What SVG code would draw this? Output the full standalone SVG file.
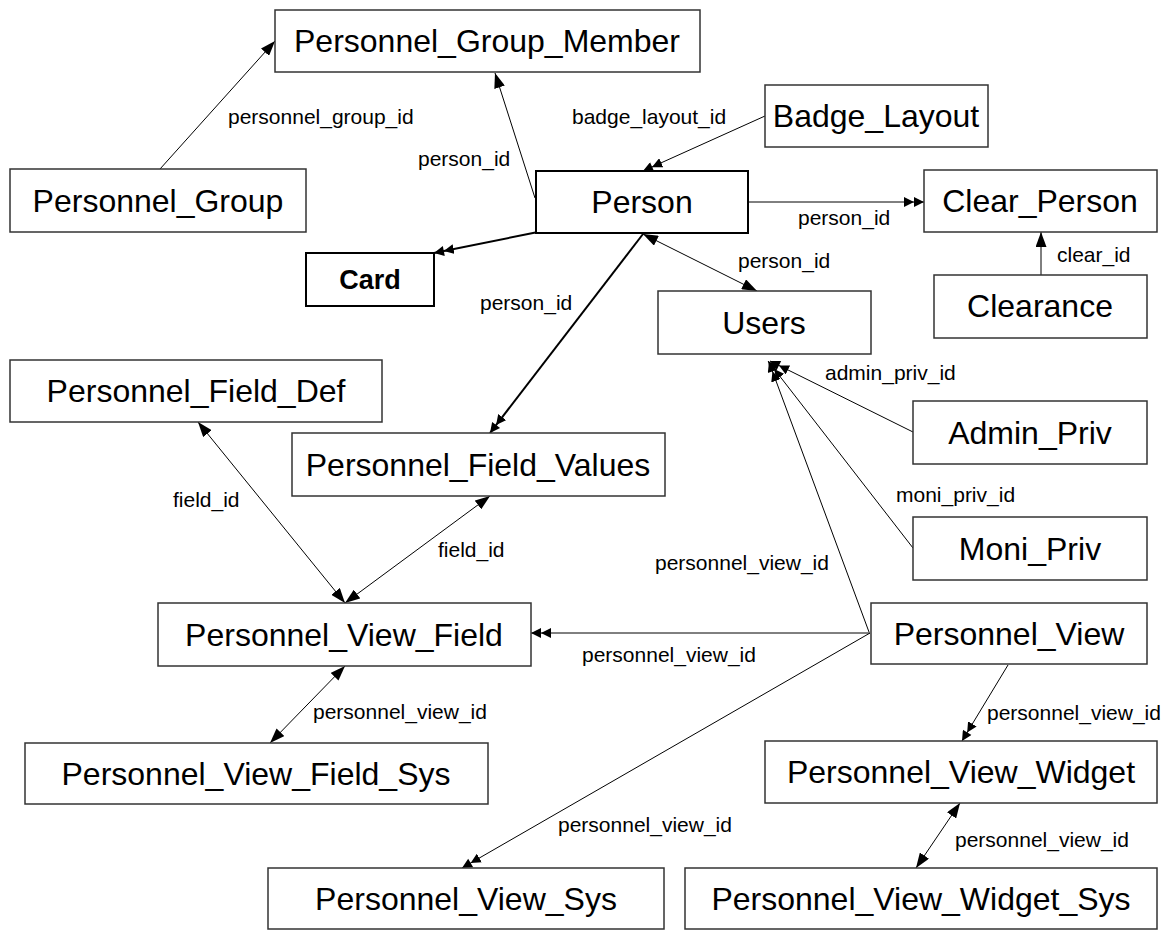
<svg xmlns="http://www.w3.org/2000/svg" width="1165" height="932" viewBox="0 0 1165 932">
  <style>
    .box { fill: #ffffff; stroke: #333333; stroke-width: 1.5; }
    .box.strong { stroke: #000000; stroke-width: 2; }
    .name { font-family: "Liberation Sans", Arial, sans-serif; font-size: 32px; fill: #000000; text-anchor: middle; }
    .name.bold { font-size: 27px; font-weight: bold; }
    .lbl { font-family: "Liberation Sans", Arial, sans-serif; font-size: 21px; fill: #000000; }
    .edge { fill: none; stroke: #000000; stroke-width: 1; }
    .edge.heavy { stroke-width: 2; }
  </style>
  <defs>
    <!-- single filled head, usable at either end -->
    <marker id="one" viewBox="0 0 15 11" refX="15" refY="5.5" markerWidth="15" markerHeight="11" markerUnits="userSpaceOnUse" orient="auto-start-reverse">
      <path d="M0,0 L15,5.5 L0,11 z" fill="#000000"/>
    </marker>
    <!-- doubled head for one-to-many ends -->
    <marker id="two" viewBox="0 0 20 10" refX="20" refY="5" markerWidth="20" markerHeight="10" markerUnits="userSpaceOnUse" orient="auto">
      <path d="M0,0 L10,5 L0,10 z M10,0 L20,5 L10,10 z" fill="#000000"/>
    </marker>
  </defs>

  <g id="connectors">
    <line class="edge" x1="160" y1="169" x2="275" y2="41" marker-end="url(#one)"/>
    <line class="edge" x1="535" y1="198" x2="495" y2="73" marker-end="url(#one)"/>
    <line class="edge" x1="765" y1="116" x2="643" y2="171" marker-end="url(#two)"/>
    <line class="edge heavy" x1="538" y1="232" x2="434" y2="253" marker-end="url(#two)"/>
    <line class="edge" x1="748" y1="202" x2="924" y2="202" marker-end="url(#two)"/>
    <line class="edge" x1="1041" y1="275" x2="1041" y2="232" marker-end="url(#one)"/>
    <line class="edge" x1="643" y1="234" x2="757" y2="291" marker-start="url(#one)" marker-end="url(#one)"/>
    <line class="edge heavy" x1="643" y1="234" x2="490" y2="433" marker-end="url(#two)"/>
    <line class="edge" x1="913" y1="432" x2="770" y2="361" marker-end="url(#two)"/>
    <line class="edge" x1="913" y1="548" x2="768" y2="361" marker-end="url(#two)"/>
    <line class="edge" x1="869" y1="632" x2="769" y2="362" marker-end="url(#two)"/>
    <line class="edge" x1="870" y1="633" x2="531" y2="633" marker-end="url(#two)"/>
    <line class="edge" x1="870" y1="633" x2="462" y2="868" marker-end="url(#two)"/>
    <line class="edge" x1="1008" y1="665" x2="962" y2="741" marker-end="url(#two)"/>
    <line class="edge" x1="960" y1="803" x2="916" y2="868" marker-start="url(#one)" marker-end="url(#one)"/>
    <line class="edge" x1="198" y1="422" x2="345" y2="603" marker-start="url(#one)" marker-end="url(#one)"/>
    <line class="edge" x1="345" y1="603" x2="490" y2="496" marker-start="url(#one)" marker-end="url(#one)"/>
    <line class="edge" x1="345" y1="666" x2="270" y2="743" marker-start="url(#one)" marker-end="url(#one)"/>

    <text class="lbl" x="228" y="124">personnel_group_id</text>
    <text class="lbl" x="418" y="166">person_id</text>
    <text class="lbl" x="572" y="124">badge_layout_id</text>
    <text class="lbl" x="798" y="225">person_id</text>
    <text class="lbl" x="1057" y="262">clear_id</text>
    <text class="lbl" x="738" y="268">person_id</text>
    <text class="lbl" x="480" y="310">person_id</text>
    <text class="lbl" x="825" y="380">admin_priv_id</text>
    <text class="lbl" x="896" y="502">moni_priv_id</text>
    <text class="lbl" x="655" y="570">personnel_view_id</text>
    <text class="lbl" x="582" y="662">personnel_view_id</text>
    <text class="lbl" x="173" y="507">field_id</text>
    <text class="lbl" x="438" y="557">field_id</text>
    <text class="lbl" x="313" y="719">personnel_view_id</text>
    <text class="lbl" x="987" y="720">personnel_view_id</text>
    <text class="lbl" x="558" y="832">personnel_view_id</text>
    <text class="lbl" x="955" y="847">personnel_view_id</text>
  </g>

  <g id="personnel_group_member"><rect class="box" x="275" y="10" width="425" height="62"/><text class="name" x="487" y="52">Personnel_Group_Member</text></g>
  <g id="personnel_group"><rect class="box" x="10" y="169" width="296" height="63"/><text class="name" x="158" y="212">Personnel_Group</text></g>
  <g id="badge_layout"><rect class="box" x="765" y="85" width="223" height="62"/><text class="name" x="876" y="127">Badge_Layout</text></g>
  <g id="person"><rect class="box strong" x="536" y="171" width="212" height="62"/><text class="name" x="642" y="213">Person</text></g>
  <g id="clear_person"><rect class="box" x="924" y="170" width="233" height="62"/><text class="name" x="1040" y="212">Clear_Person</text></g>
  <g id="card"><rect class="box strong" x="306" y="253" width="128" height="53"/><text class="name bold" x="370" y="289">Card</text></g>
  <g id="clearance"><rect class="box" x="934" y="275" width="213" height="63"/><text class="name" x="1040" y="317">Clearance</text></g>
  <g id="users"><rect class="box" x="658" y="291" width="213" height="63"/><text class="name" x="764" y="334">Users</text></g>
  <g id="personnel_field_def"><rect class="box" x="10" y="360" width="372" height="62"/><text class="name" x="196" y="402">Personnel_Field_Def</text></g>
  <g id="admin_priv"><rect class="box" x="913" y="401" width="234" height="63"/><text class="name" x="1030" y="444">Admin_Priv</text></g>
  <g id="personnel_field_values"><rect class="box" x="292" y="433" width="373" height="63"/><text class="name" x="478" y="476">Personnel_Field_Values</text></g>
  <g id="moni_priv"><rect class="box" x="913" y="517" width="234" height="63"/><text class="name" x="1030" y="560">Moni_Priv</text></g>
  <g id="personnel_view_field"><rect class="box" x="158" y="603" width="373" height="63"/><text class="name" x="344" y="646">Personnel_View_Field</text></g>
  <g id="personnel_view"><rect class="box" x="871" y="603" width="276" height="61"/><text class="name" x="1009" y="645">Personnel_View</text></g>
  <g id="personnel_view_field_sys"><rect class="box" x="25" y="743" width="463" height="61"/><text class="name" x="256" y="785">Personnel_View_Field_Sys</text></g>
  <g id="personnel_view_widget"><rect class="box" x="765" y="741" width="392" height="62"/><text class="name" x="961" y="783">Personnel_View_Widget</text></g>
  <g id="personnel_view_sys"><rect class="box" x="268" y="868" width="396" height="61"/><text class="name" x="466" y="910">Personnel_View_Sys</text></g>
  <g id="personnel_view_widget_sys"><rect class="box" x="685" y="868" width="472" height="61"/><text class="name" x="921" y="910">Personnel_View_Widget_Sys</text></g>
</svg>
